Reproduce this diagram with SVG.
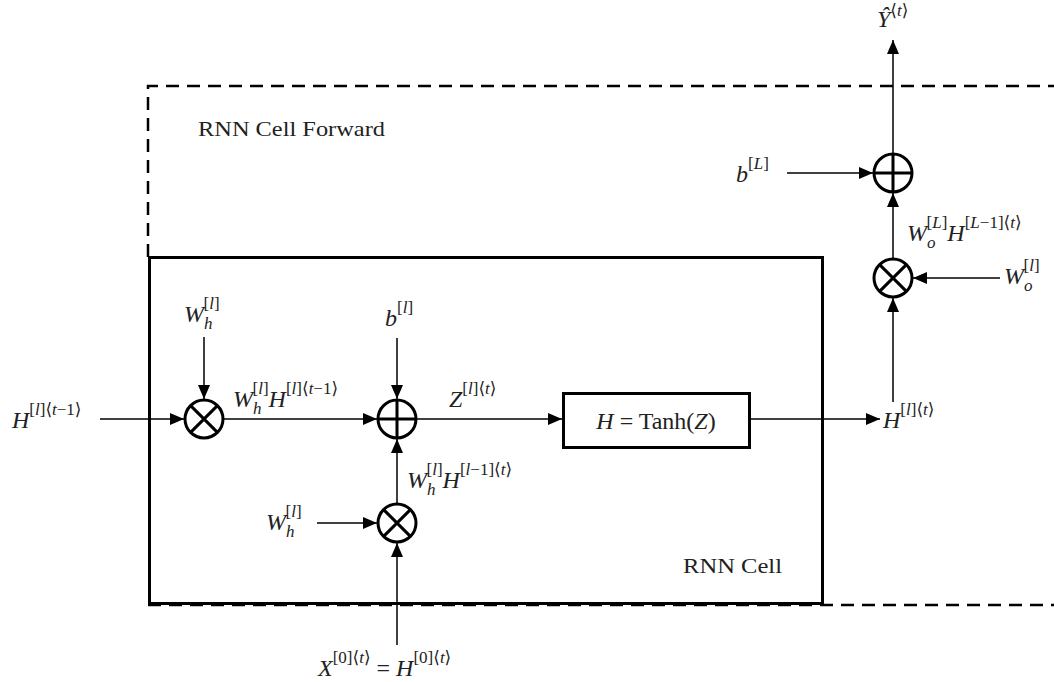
<svg xmlns="http://www.w3.org/2000/svg" width="1054" height="682" viewBox="0 0 1054 682">
<style>
.m{font-family:"Liberation Serif","DejaVu Serif",serif;font-style:italic;font-size:24px;fill:#222}
.u{font-style:normal}
.s{font-size:17px}
.t{font-family:"Liberation Serif","Times New Roman",serif;font-size:21px;fill:#222}
.c{fill:#fff;stroke:#000;stroke-width:3}
.x{stroke:#000;stroke-width:3;fill:none}
.e{stroke:#000;stroke-width:1.5;fill:none}
.d{stroke:#000;stroke-width:2.5;fill:none;stroke-dasharray:13 8}
</style>
<defs>
<marker id="a" viewBox="0 0 14 12" refX="14" refY="6" markerWidth="14" markerHeight="12" markerUnits="userSpaceOnUse" orient="auto">
<path d="M0,0 L14,6 L0,12 Z" fill="#000"/>
</marker>
</defs>
<rect width="1054" height="682" fill="#fff"/>
<g id="forward-frame">
<path class="d" d="M148,257 V86 H1054"/>
<path class="d" d="M148,605 H1054"/>
<text class="t" x="198" y="136" textLength="187" lengthAdjust="spacingAndGlyphs">RNN Cell Forward</text>
</g>
<g id="rnn-cell">
<rect x="149.5" y="257.5" width="673" height="346" fill="none" stroke="#000" stroke-width="3"/>
<text class="t" x="683" y="573" textLength="99" lengthAdjust="spacingAndGlyphs">RNN Cell</text>
</g>
<g id="connectors">
<line class="e" x1="100" y1="419" x2="184" y2="419" marker-end="url(#a)"/>
<line class="e" x1="204" y1="337" x2="204" y2="399" marker-end="url(#a)"/>
<line class="e" x1="224" y1="419" x2="377" y2="419" marker-end="url(#a)"/>
<line class="e" x1="397" y1="338" x2="397" y2="399" marker-end="url(#a)"/>
<line class="e" x1="417" y1="419" x2="562" y2="419" marker-end="url(#a)"/>
<line class="e" x1="397" y1="503" x2="397" y2="439" marker-end="url(#a)"/>
<line class="e" x1="317" y1="523" x2="377" y2="523" marker-end="url(#a)"/>
<line class="e" x1="397" y1="645" x2="397" y2="543" marker-end="url(#a)"/>
<line class="e" x1="750" y1="419" x2="880" y2="419" marker-end="url(#a)"/>
<line class="e" x1="893" y1="402" x2="893" y2="298" marker-end="url(#a)"/>
<line class="e" x1="1000" y1="278" x2="913" y2="278" marker-end="url(#a)"/>
<line class="e" x1="893" y1="258" x2="893" y2="193" marker-end="url(#a)"/>
<line class="e" x1="787" y1="173" x2="873" y2="173" marker-end="url(#a)"/>
<line class="e" x1="893" y1="153" x2="893" y2="40" marker-end="url(#a)"/>
</g>
<g id="mult-h">
<circle class="c" cx="204" cy="419" r="19"/>
<path class="x" d="M190.6,405.6 L217.4,432.4 M217.4,405.6 L190.6,432.4"/>
</g>
<g id="add-z">
<circle class="c" cx="397" cy="419" r="19"/>
<path class="x" d="M378,419 H416 M397,400 V438"/>
</g>
<g id="mult-x">
<circle class="c" cx="397" cy="523" r="19"/>
<path class="x" d="M383.6,509.6 L410.4,536.4 M410.4,509.6 L383.6,536.4"/>
</g>
<g id="tanh">
<rect x="563.5" y="393.5" width="186" height="54" fill="#fff" stroke="#000" stroke-width="3"/>
<text class="m" x="656" y="429" text-anchor="middle">H <tspan class="u">= Tanh(</tspan>Z<tspan class="u">)</tspan></text>
</g>
<g id="mult-o">
<circle class="c" cx="893" cy="278" r="19"/>
<path class="x" d="M879.6,264.6 L906.4,291.4 M906.4,264.6 L879.6,291.4"/>
</g>
<g id="add-y">
<circle class="c" cx="893" cy="173" r="19"/>
<path class="x" d="M874,173 H912 M893,154 V192"/>
</g>
<g id="labels">
<text class="m" x="12" y="428">H<tspan class="s u" dy="-13">[</tspan><tspan class="s">l</tspan><tspan class="s u">]⟨</tspan><tspan class="s">t</tspan><tspan class="s u">−1⟩</tspan></text>
<text class="m" x="184" y="322">W<tspan class="s" dy="7">h</tspan><tspan class="s u" dx="-9" dy="-20">[</tspan><tspan class="s">l</tspan><tspan class="s u">]</tspan></text>
<text class="m" x="385" y="326">b<tspan class="s u" dy="-13">[</tspan><tspan class="s">l</tspan><tspan class="s u">]</tspan></text>
<text class="m" x="233" y="407">W<tspan class="s" dy="7">h</tspan><tspan class="s u" dx="-9" dy="-20">[</tspan><tspan class="s">l</tspan><tspan class="s u">]</tspan><tspan dy="13">H</tspan><tspan class="s u" dy="-13">[</tspan><tspan class="s">l</tspan><tspan class="s u">]⟨</tspan><tspan class="s">t</tspan><tspan class="s u">−1⟩</tspan></text>
<text class="m" x="449" y="407">Z<tspan class="s u" dy="-13">[</tspan><tspan class="s">l</tspan><tspan class="s u">]⟨</tspan><tspan class="s">t</tspan><tspan class="s u">⟩</tspan></text>
<text class="m" x="407" y="488">W<tspan class="s" dy="7">h</tspan><tspan class="s u" dx="-9" dy="-20">[</tspan><tspan class="s">l</tspan><tspan class="s u">]</tspan><tspan dy="13">H</tspan><tspan class="s u" dy="-13">[</tspan><tspan class="s">l</tspan><tspan class="s u">−1]⟨</tspan><tspan class="s">t</tspan><tspan class="s u">⟩</tspan></text>
<text class="m" x="266" y="530">W<tspan class="s" dy="7">h</tspan><tspan class="s u" dx="-9" dy="-20">[</tspan><tspan class="s">l</tspan><tspan class="s u">]</tspan></text>
<text class="m" x="318" y="676">X<tspan class="s u" dy="-13">[0]⟨</tspan><tspan class="s">t</tspan><tspan class="s u">⟩</tspan><tspan class="u" dy="13"> = </tspan>H<tspan class="s u" dy="-13">[0]⟨</tspan><tspan class="s">t</tspan><tspan class="s u">⟩</tspan></text>
<text class="m" x="883" y="428">H<tspan class="s u" dy="-13">[</tspan><tspan class="s">l</tspan><tspan class="s u">]⟨</tspan><tspan class="s">t</tspan><tspan class="s u">⟩</tspan></text>
<text class="m" x="1004" y="284">W<tspan class="s" dy="7">o</tspan><tspan class="s u" dx="-9" dy="-20">[</tspan><tspan class="s">l</tspan><tspan class="s u">]</tspan></text>
<text class="m" x="907" y="241">W<tspan class="s" dy="7">o</tspan><tspan class="s u" dx="-9" dy="-20">[</tspan><tspan class="s">L</tspan><tspan class="s u">]</tspan><tspan dy="13">H</tspan><tspan class="s u" dy="-13">[</tspan><tspan class="s">L</tspan><tspan class="s u">−1]⟨</tspan><tspan class="s">t</tspan><tspan class="s u">⟩</tspan></text>
<text class="m" x="736" y="182">b<tspan class="s u" dy="-13">[</tspan><tspan class="s">L</tspan><tspan class="s u">]</tspan></text>
<text class="m" x="877" y="27">Ŷ<tspan class="s u" dy="-11">⟨</tspan><tspan class="s">t</tspan><tspan class="s u">⟩</tspan></text>
</g>
</svg>
